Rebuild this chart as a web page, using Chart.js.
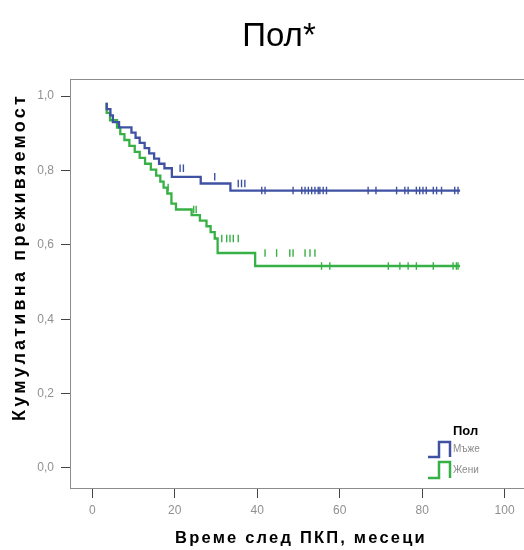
<!DOCTYPE html>
<html>
<head>
<meta charset="utf-8">
<script src="https://cdn.jsdelivr.net/npm/chart.js@4/dist/chart.umd.min.js"></script>
<style>
  html, body { margin: 0; padding: 0; background: #fff; }
  canvas { display: block; }
</style>
</head>
<body>
<canvas id="km" width="524" height="550"></canvas>
<script>
// Kaplan–Meier survival by sex after PCI (months)
const xTicks = [0, 20, 40, 60, 80, 100];
const yTicks = [0, 0.2, 0.4, 0.6, 0.8, 1.0];

// Мъже: event times and survival after each step
const maleTimes    = [3.5, 4.4, 5.0, 6.5, 9.5, 10.5, 11.5, 12.7, 13.8, 15.0, 16.2, 17.5, 19.3, 26.3, 33.5, 39.6];
const maleSurvival = [0.982, 0.965, 0.948, 0.930, 0.916, 0.902, 0.888, 0.874, 0.860, 0.846, 0.832, 0.818, 0.806, 0.783, 0.765, 0.746];
const maleCensored = [21.3, 22.1, 29.7, 35.4, 36.2, 37.0, 41.1, 41.9, 48.7, 50.8, 51.6, 52.4, 53.2, 54.0, 54.8,
                      55.2, 56.0, 56.8, 66.9, 68.8, 73.8, 75.8, 76.6, 78.6, 79.4, 80.2, 81.0, 82.7, 83.5, 84.7, 87.9, 88.7];
const maleEnd = 89.2;

// Жени
const femaleTimes    = [3.5, 4.3, 6.0, 6.8, 7.8, 9.0, 10.3, 11.5, 12.8, 14.2, 15.5, 16.5, 17.3, 18.2, 19.2, 20.3,
                        24.1, 26.1, 27.7, 28.7, 29.7, 30.4, 39.5, 55.0];
const femaleSurvival = [0.982, 0.955, 0.935, 0.915, 0.898, 0.882, 0.866, 0.850, 0.834, 0.818, 0.802, 0.786, 0.770, 0.754, 0.738, 0.711,
                        0.695, 0.680, 0.665, 0.650, 0.634, 0.617, 0.578, 0.543];
const femaleCensored = [18.4, 24.6, 25.2, 31.4, 32.6, 33.4, 34.2, 35.4, 41.9, 44.7, 47.9, 48.7, 51.6, 52.8, 54.0,
                        55.6, 57.6, 71.8, 74.6, 76.6, 78.6, 82.7, 87.5, 88.3, 88.7];
const femaleEnd = 89.2;

const BLUE = '#3f51a3';
const GREEN = '#37b045';
const FONT = '"Liberation Sans", Arial, sans-serif';

function curve(times, surv, end) {
  const pts = times.map((t, i) => ({ x: t, y: surv[i] }));
  pts.push({ x: end, y: surv[surv.length - 1] });
  return pts;
}
function survAt(times, surv, t) {
  let v = surv[0];
  for (let i = 0; i < times.length; i++) if (times[i] <= t) v = surv[i];
  return v;
}
function marks(times, surv, cens) {
  return cens.map(t => ({ x: t, y: survAt(times, surv, t) }));
}

// frame top line, axis titles, chart title and the group legend
const decor = {
  id: 'decor',
  afterDraw(chart) {
    const { ctx, chartArea: a } = chart;
    ctx.save();
    ctx.strokeStyle = '#8c8c8c';
    ctx.lineWidth = 1;
    ctx.beginPath();
    ctx.moveTo(a.left, a.top + 0.5);
    ctx.lineTo(a.right, a.top + 0.5);
    ctx.stroke();

    ctx.fillStyle = '#000';
    ctx.textAlign = 'center';
    ctx.textBaseline = 'alphabetic';
    ctx.font = '33px ' + FONT;
    ctx.fillText('Пол*', 279, 46);

    ctx.textBaseline = 'middle';
    ctx.font = 'bold 16.5px ' + FONT;
    ctx.letterSpacing = '2.2px';
    ctx.fillText('Време след ПКП, месеци', 301, 538);
    ctx.font = 'bold 18px ' + FONT;
    ctx.letterSpacing = '3.2px';
    ctx.save();
    ctx.translate(20, 257);
    ctx.rotate(-Math.PI / 2);
    ctx.fillText('Кумулативна преживяемост', 0, 0);
    ctx.restore();
    ctx.letterSpacing = '0px';

    // legend
    ctx.textAlign = 'left';
    ctx.textBaseline = 'alphabetic';
    ctx.font = 'bold 13px ' + FONT;
    ctx.fillText('Пол', 453, 435);
    const items = [[BLUE, 'Мъже', 457, 442], [GREEN, 'Жени', 478, 462]];
    ctx.lineWidth = 2.5;
    ctx.font = '10px ' + FONT;
    for (const [c, label, lo, hi] of items) {
      ctx.strokeStyle = c;
      ctx.beginPath();
      ctx.moveTo(428, lo); ctx.lineTo(439, lo); ctx.lineTo(439, hi);
      ctx.lineTo(450, hi); ctx.lineTo(450, lo);
      ctx.stroke();
      ctx.fillStyle = '#8a8a8a';
      ctx.textBaseline = 'middle';
      ctx.fillText(label, 453, (lo + hi) / 2);
    }
    ctx.restore();
  }
};

new Chart(document.getElementById('km'), {
  type: 'line',
  data: {
    datasets: [
      { label: 'Мъже', data: curve(maleTimes, maleSurvival, maleEnd), borderColor: BLUE, borderWidth: 2.3,
        stepped: 'after', pointRadius: 0, fill: false },
      { label: 'Жени', data: curve(femaleTimes, femaleSurvival, femaleEnd), borderColor: GREEN, borderWidth: 2.3,
        stepped: 'after', pointRadius: 0, fill: false },
      { label: 'Мъже (цензурирани)', data: marks(maleTimes, maleSurvival, maleCensored), showLine: false,
        pointStyle: 'line', rotation: 90, pointRadius: 3.8, borderColor: BLUE, pointBorderWidth: 1.4 },
      { label: 'Жени (цензурирани)', data: marks(femaleTimes, femaleSurvival, femaleCensored), showLine: false,
        pointStyle: 'line', rotation: 90, pointRadius: 3.8, borderColor: GREEN, pointBorderWidth: 1.4 }
    ]
  },
  options: {
    responsive: false,
    animation: false,
    layout: { autoPadding: false, padding: { top: 79, left: 0, right: 0, bottom: 0 } },
    plugins: { legend: { display: false }, title: { display: false }, tooltip: { enabled: false } },
    scales: {
      x: {
        type: 'linear', min: -5.4, max: 104.7,
        afterBuildTicks: s => { s.ticks = xTicks.map(v => ({ value: v })); },
        afterFit: s => { s.height = 62; s.paddingLeft = 0; s.paddingRight = 0; },
        grid: { drawOnChartArea: false, drawTicks: true, tickLength: 10, tickColor: '#444' },
        border: { color: '#8c8c8c', width: 1 },
        ticks: { color: '#909090', padding: 5, maxRotation: 0, font: { family: FONT, size: 12 } }
      },
      y: {
        type: 'linear', min: -0.054, max: 1.046,
        afterBuildTicks: s => { s.ticks = yTicks.map(v => ({ value: v })); },
        afterFit: s => { s.width = 70; s.paddingTop = 0; s.paddingBottom = 0; },
        grid: { drawOnChartArea: false, drawTicks: true, tickLength: 9, tickColor: '#444' },
        border: { color: '#8c8c8c', width: 1 },
        ticks: { color: '#909090', padding: 7,
                 callback: v => v.toFixed(1).replace('.', ','),
                 font: { family: FONT, size: 12 } }
      }
    }
  },
  plugins: [decor]
});
</script>
</body>
</html>
